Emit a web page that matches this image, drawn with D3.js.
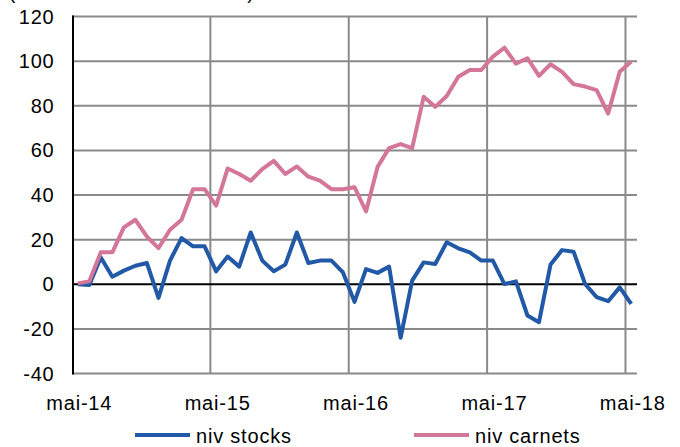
<!DOCTYPE html>
<html><head><meta charset="utf-8">
<script src="https://cdn.jsdelivr.net/npm/d3@7"></script>
<style>body{margin:0;background:#fff}svg{display:block}text{font-family:"Liberation Sans",Arial,sans-serif;fill:#000;letter-spacing:0.8px}</style>
</head><body>
<svg id="c" width="680" height="447"></svg>
<script>
const months = ["mai-14","juin-14","juil-14","août-14","sept-14","oct-14","nov-14","déc-14","janv-15","févr-15","mars-15","avr-15",
"mai-15","juin-15","juil-15","août-15","sept-15","oct-15","nov-15","déc-15","janv-16","févr-16","mars-16","avr-16",
"mai-16","juin-16","juil-16","août-16","sept-16","oct-16","nov-16","déc-16","janv-17","févr-17","mars-17","avr-17",
"mai-17","juin-17","juil-17","août-17","sept-17","oct-17","nov-17","déc-17","janv-18","févr-18","mars-18","avr-18","mai-18"];
const nivStocks = [0,-0.3,12,3.4,6.1,8.3,9.5,-6.1,10.6,20.7,17,17,
5.8,12.4,7.9,23.2,10.6,5.8,8.8,23.2,9.5,10.6,10.6,5.3,
-7.9,6.8,5.1,7.9,-24,1.6,9.8,9.1,18.8,16.1,14.3,10.6,
10.6,0.1,1.3,-14,-17,8.8,15.3,14.6,0.1,-5.8,-7.6,-1.4,-8.8];
const nivCarnets = [0.4,1.3,14.3,14.3,25.5,28.9,21.3,16.2,24.4,28.9,42.6,42.6,
35.2,51.9,49.4,46.4,51.6,55.3,49.4,52.8,48.2,46.4,42.6,42.6,
43.5,32.6,52.6,61,62.8,61,84,79.5,84.4,93,96,96,
102,106,98.9,101.3,93.4,98.6,95.2,89.7,88.6,87,76.5,95.2,99.8];
const xTickLabels = ["mai-14","mai-15","mai-16","mai-17","mai-18"];
const yTicks = [-40,-20,0,20,40,60,80,100,120];
const seriesNames = ["niv stocks","niv carnets"];
const colors = ["#2159A6","#D4769A"];

const svg = d3.select("#c");
const L = 72, R = 637, T = 16.5, B = 373.5;
const x = d3.scaleBand().domain(months).range([L, R]).padding(0);
const y = d3.scaleLinear().domain([-40, 120]).range([B, T]);
const cx = d => x(d) + x.bandwidth() / 2;

// partial title (cut off at top, as in the reference)
svg.append("text").attr("x", 9).attr("y", -1).attr("font-size", 19).style("letter-spacing", "0.3px")
  .text("(écart de niveau / mai 2014)");

// horizontal gridlines
svg.append("g").selectAll("line").data(yTicks.filter(v => v !== 0)).join("line")
  .attr("x1", L).attr("x2", R).attr("y1", d => y(d)).attr("y2", d => y(d))
  .attr("stroke", "#8a8a8a").attr("stroke-width", 2);
// vertical gridlines
svg.append("g").selectAll("line").data(xTickLabels.slice(1)).join("line")
  .attr("x1", d => x(d)).attr("x2", d => x(d)).attr("y1", T).attr("y2", B)
  .attr("stroke", "#8a8a8a").attr("stroke-width", 2);
// left axis and zero line
svg.append("line").attr("x1", L + 1).attr("x2", L + 1).attr("y1", T - 1).attr("y2", B + 1)
  .attr("stroke", "#000").attr("stroke-width", 2);
svg.append("line").attr("x1", L).attr("x2", R).attr("y1", y(0)).attr("y2", y(0))
  .attr("stroke", "#000").attr("stroke-width", 2);

// y labels
svg.append("g").selectAll("text").data(yTicks).join("text")
  .attr("x", 54.5).attr("y", d => y(d)).attr("dy", "0.35em").attr("text-anchor", "end")
  .attr("font-size", 20).text(d => d);
// x labels
svg.append("g").selectAll("text").data(xTickLabels).join("text")
  .attr("x", d => cx(d) + 1.5).attr("y", 410).attr("text-anchor", "middle")
  .attr("font-size", 20).text(d => d);

const line = d3.line().x((d, i) => cx(months[i])).y(d => y(d)).curve(d3.curveLinear);
[nivStocks, nivCarnets].forEach((s, k) => {
  svg.append("path").datum(s).attr("d", line).attr("fill", "none")
    .attr("stroke", colors[k]).attr("stroke-width", 4).attr("stroke-linejoin", "round");
});

// legend
const legX = [135, 414];
seriesNames.forEach((n, k) => {
  svg.append("line").attr("x1", legX[k]).attr("x2", legX[k] + 55).attr("y1", 435).attr("y2", 435)
    .attr("stroke", colors[k]).attr("stroke-width", 4);
  svg.append("text").attr("x", legX[k] + 61).attr("y", 443).attr("font-size", 20).text(n);
});
</script>
</body></html>
